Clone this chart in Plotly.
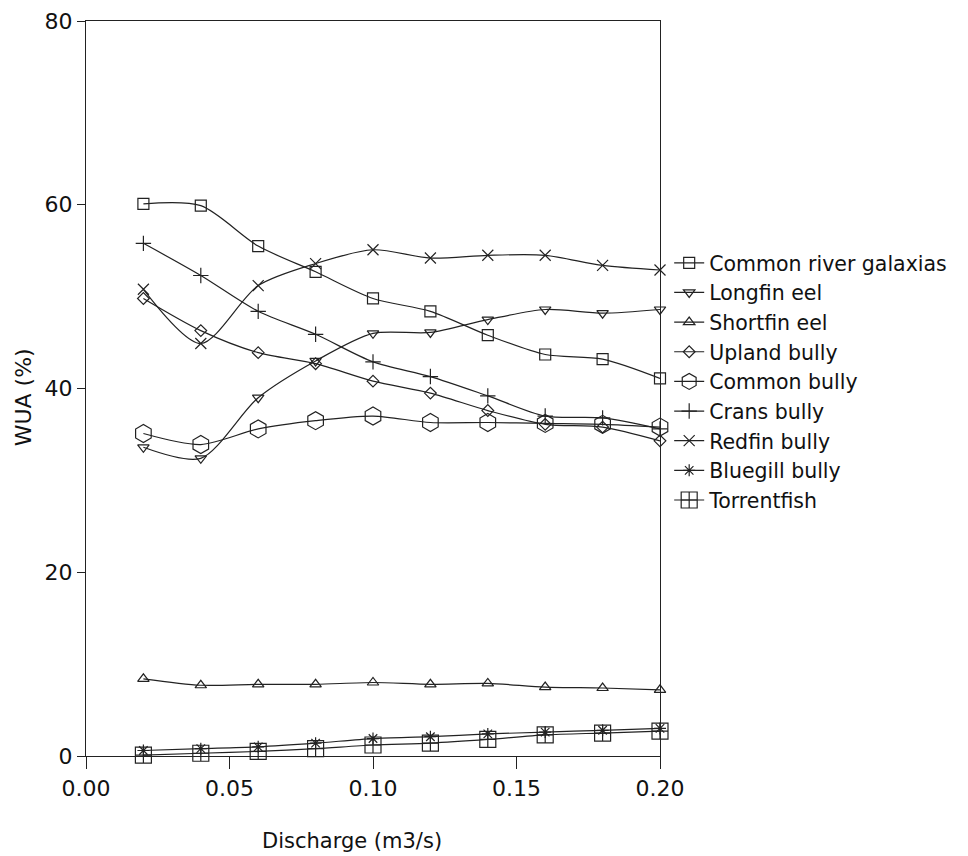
import plotly.graph_objects as go

discharge = [0.02, 0.04, 0.06, 0.08, 0.10, 0.12, 0.14, 0.16, 0.18, 0.20]

common_river_galaxias = [60.1, 59.9, 55.5, 52.7, 49.8, 48.4, 45.8, 43.7, 43.2, 41.1]
longfin_eel = [33.6, 32.4, 39.0, 43.0, 46.0, 46.1, 47.5, 48.6, 48.2, 48.6]
shortfin_eel = [8.4, 7.7, 7.8, 7.8, 8.0, 7.8, 7.9, 7.5, 7.4, 7.2]
upland_bully = [49.8, 46.3, 43.9, 42.7, 40.8, 39.5, 37.6, 36.1, 35.8, 34.3]
common_bully = [35.1, 33.9, 35.6, 36.5, 37.0, 36.3, 36.3, 36.2, 36.1, 35.8]
crans_bully = [55.8, 52.3, 48.4, 45.9, 42.9, 41.3, 39.2, 37.0, 36.8, 35.6]
redfin_bully = [50.8, 44.9, 51.2, 53.6, 55.1, 54.2, 54.5, 54.5, 53.4, 52.9]
bluegill_bully = [0.6, 0.8, 1.0, 1.4, 1.9, 2.1, 2.4, 2.6, 2.8, 3.0]
torrentfish = [0.1, 0.3, 0.5, 0.8, 1.2, 1.4, 1.8, 2.3, 2.5, 2.7]

x_tick_vals = [0, 0.05, 0.10, 0.15, 0.20]
x_tick_text = ["0.00", "0.05", "0.10", "0.15", "0.20"]
y_tick_vals = [0, 20, 40, 60, 80]

series = [
    ("Common river galaxias", common_river_galaxias, "square-open", 11),
    ("Longfin eel", longfin_eel, "triangle-down-open", 10),
    ("Shortfin eel", shortfin_eel, "triangle-up-open", 10),
    ("Upland bully", upland_bully, "diamond-open", 9),
    ("Common bully", common_bully, "hexagon-open", 18),
    ("Crans bully", crans_bully, "cross-thin-open", 11),
    ("Redfin bully", redfin_bully, "x-thin-open", 11),
    ("Bluegill bully", bluegill_bully, "asterisk-open", 10),
    ("Torrentfish", torrentfish, "square-cross-open", 16),
]

ink = "#222222"
fig = go.Figure()
for name, vals, sym, size in series:
    fig.add_trace(go.Scatter(
        x=discharge, y=vals, name=name,
        mode="lines+markers",
        line=dict(color=ink, width=1.2, shape="spline", smoothing=0.8),
        marker=dict(symbol=sym, size=size, color=ink, line=dict(width=1.2, color=ink)),
        cliponaxis=False,
    ))

fam = "DejaVu Sans, Verdana, sans-serif"
tick_font = dict(family=fam, size=22, color="#111111")
fig.update_layout(
    width=968, height=856,
    paper_bgcolor="white", plot_bgcolor="white",
    margin=dict(l=78, r=316, t=13, b=108, autoexpand=False),
    font=dict(family=fam, color="#111111"),
    legend=dict(
        x=1.016, y=0.698, xanchor="left", yanchor="top",
        font=dict(size=20.5, family=fam),
        bgcolor="rgba(0,0,0,0)", itemwidth=30,
    ),
    xaxis=dict(
        range=[0, 0.2], tickvals=x_tick_vals, ticktext=x_tick_text,
        ticks="outside", ticklen=12, tickcolor=ink,
        showline=True, linecolor=ink, linewidth=1.2, mirror=True,
        showgrid=False, zeroline=False, tickfont=tick_font, automargin=False,
    ),
    yaxis=dict(
        range=[0, 80], tickvals=y_tick_vals,
        ticks="outside", ticklen=8, tickcolor=ink,
        showline=True, linecolor=ink, linewidth=1.2, mirror=True,
        showgrid=False, zeroline=False, tickfont=tick_font, automargin=False,
    ),
    annotations=[
        dict(text="Discharge (m3/s)", xref="paper", yref="paper",
             x=0.463, y=-0.1156, xanchor="center", yanchor="middle",
             showarrow=False, font=dict(size=21, family=fam, color="#111111")),
        dict(text="WUA (%)", xref="paper", yref="paper", textangle=-90,
             x=-0.1098, y=0.488, xanchor="center", yanchor="middle",
             showarrow=False, font=dict(size=22, family=fam, color="#111111")),
    ],
)

fig.write_html("out.html")
